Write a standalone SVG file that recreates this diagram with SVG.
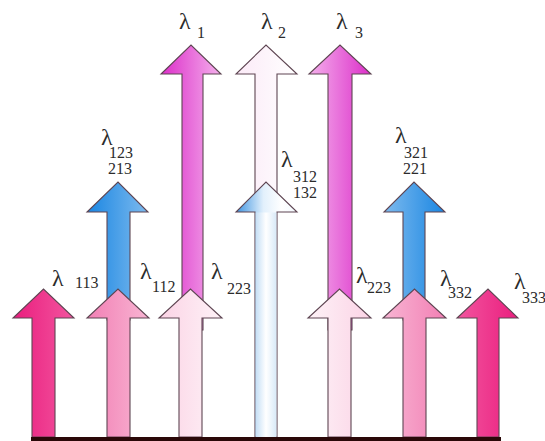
<svg xmlns="http://www.w3.org/2000/svg" width="545" height="441" viewBox="0 0 545 441">
<style>
.ar{stroke:#5e4552;stroke-width:1.1;stroke-linejoin:miter}
.lam{font-family:"Liberation Serif","DejaVu Serif",serif;font-size:24px;fill:#2b2b2b}
.sub{font-family:"Liberation Serif","DejaVu Serif",serif;font-size:16px;fill:#2b2b2b}
</style>
<defs>
<linearGradient id="gDarkL" x1="0" y1="0" x2="1" y2="0"><stop offset="0" stop-color="#ea1e7e"/><stop offset="1" stop-color="#f2559f"/></linearGradient>
<linearGradient id="gDarkR" x1="0" y1="0" x2="1" y2="0"><stop offset="0" stop-color="#f2559f"/><stop offset="1" stop-color="#ea1e7e"/></linearGradient>
<linearGradient id="gMedL" x1="0" y1="0" x2="1" y2="0"><stop offset="0" stop-color="#f27fb4"/><stop offset="1" stop-color="#f8b5d3"/></linearGradient>
<linearGradient id="gMedR" x1="0" y1="0" x2="1" y2="0"><stop offset="0" stop-color="#f8b5d3"/><stop offset="1" stop-color="#f27fb4"/></linearGradient>
<linearGradient id="gLightL" x1="0" y1="0" x2="1" y2="0"><stop offset="0" stop-color="#fbd3e5"/><stop offset="1" stop-color="#fef2f7"/></linearGradient>
<linearGradient id="gLightR" x1="0" y1="0" x2="1" y2="0"><stop offset="0" stop-color="#fef2f7"/><stop offset="1" stop-color="#fbd3e5"/></linearGradient>
<linearGradient id="gBlueL" x1="0" y1="0" x2="1" y2="0"><stop offset="0" stop-color="#1a86e2"/><stop offset="1" stop-color="#7dbaee"/></linearGradient>
<linearGradient id="gBlueR" x1="0" y1="0" x2="1" y2="0"><stop offset="0" stop-color="#7dbaee"/><stop offset="1" stop-color="#1a86e2"/></linearGradient>
<linearGradient id="gBlueC" x1="0" y1="0" x2="1" y2="0"><stop offset="0" stop-color="#3d93e0"/><stop offset="0.45" stop-color="#e2f0fc"/><stop offset="0.75" stop-color="#ffffff"/><stop offset="1" stop-color="#f2f8fd"/></linearGradient>
<linearGradient id="gBlueCS" x1="0" y1="0" x2="1" y2="0"><stop offset="0" stop-color="#c4def5"/><stop offset="0.5" stop-color="#ffffff"/><stop offset="1" stop-color="#d9eaf8"/></linearGradient>
<linearGradient id="gMagL" x1="0" y1="0" x2="1" y2="0"><stop offset="0" stop-color="#dc2ec9"/><stop offset="1" stop-color="#f4b0ec"/></linearGradient>
<linearGradient id="gMagR" x1="0" y1="0" x2="1" y2="0"><stop offset="0" stop-color="#f4b0ec"/><stop offset="1" stop-color="#dc2ec9"/></linearGradient>
<linearGradient id="gPale" x1="0" y1="0" x2="1" y2="0"><stop offset="0" stop-color="#fbeaf7"/><stop offset="1" stop-color="#ffffff"/></linearGradient>
</defs>
<rect width="545" height="441" fill="#ffffff"/>

<g id="lambda1">
<path class="ar" fill="url(#gMagL)" d="M182 330 V74 H161 L191 45 L221 74 H203 V330 Z"/>
<text class="lam" x="179" y="29">λ<tspan class="sub" x="197" y="38">1</tspan></text>
</g>
<g id="lambda2">
<path class="ar" fill="url(#gPale)" d="M255 200 V74 H236 L266 45 L297 74 H277 V200 Z"/>
<text class="lam" x="261" y="29">λ<tspan class="sub" x="278" y="38">2</tspan></text>
</g>
<g id="lambda3">
<path class="ar" fill="url(#gMagR)" d="M328 330 V74 H309 L340 45 L371 74 H352 V330 Z"/>
<text class="lam" x="336" y="29">λ<tspan class="sub" x="355" y="38">3</tspan></text>
</g>

<g id="lambda123">
<path class="ar" fill="url(#gBlueL)" d="M107 320 V212 H87 L118 182 L148 212 H130 V320 Z"/>
<text class="lam" x="101" y="145">λ</text>
<text class="sub" x="109" y="158">123</text>
<text class="sub" x="108" y="174">213</text>
</g>
<g id="lambda312">
<path class="ar" fill="url(#gBlueC)" d="M255 437 V212 H236 L266 182 L297 212 H277 V437 Z"/>
<path fill="url(#gBlueCS)" d="M255.6 437 V212.6 H276.4 V437 Z"/>
<text class="lam" x="281" y="167">λ</text>
<text class="sub" x="293" y="182">312</text>
<text class="sub" x="293" y="198">132</text>
</g>
<g id="lambda321">
<path class="ar" fill="url(#gBlueR)" d="M403 320 V212 H384 L414 182 L445 212 H425 V320 Z"/>
<text class="lam" x="395" y="143">λ</text>
<text class="sub" x="404" y="158">321</text>
<text class="sub" x="403" y="174">221</text>
</g>

<g id="lambda113">
<path class="ar" fill="url(#gDarkL)" d="M32 437 V318 H13 L43.5 289 L74 318 H55 V437 Z"/>
<text class="lam" x="52" y="286">λ</text>
<text class="sub" x="75" y="288">113</text>
</g>
<g id="lambda112">
<path class="ar" fill="url(#gMedL)" d="M107 437 V318 H87 L118 289 L149 318 H130 V437 Z"/>
<text class="lam" x="140" y="279">λ</text>
<text class="sub" x="152" y="292">112</text>
</g>
<g id="lambda223a">
<path class="ar" fill="url(#gLightL)" d="M179 437 V318 H159 L190.5 289 L222 318 H202 V437 Z"/>
<text class="lam" x="211" y="279">λ</text>
<text class="sub" x="227" y="294">223</text>
</g>
<g id="lambda223b">
<path class="ar" fill="url(#gLightR)" d="M328 437 V318 H308 L339.5 289 L371 318 H351 V437 Z"/>
<text class="lam" x="356" y="283">λ</text>
<text class="sub" x="367" y="293">223</text>
</g>
<g id="lambda332">
<path class="ar" fill="url(#gMedR)" d="M403 437 V318 H383 L414.5 289 L446 318 H426 V437 Z"/>
<text class="lam" x="440" y="286">λ</text>
<text class="sub" x="448" y="298">332</text>
</g>
<g id="lambda333">
<path class="ar" fill="url(#gDarkR)" d="M477 437 V318 H457 L488 289 L518 318 H499 V437 Z"/>
<text class="lam" x="514" y="289">λ</text>
<text class="sub" x="522" y="303">333</text>
</g>

<g id="connectors">
<rect x="31" y="437" width="470" height="4" fill="#2a0808"/>
</g>
</svg>
